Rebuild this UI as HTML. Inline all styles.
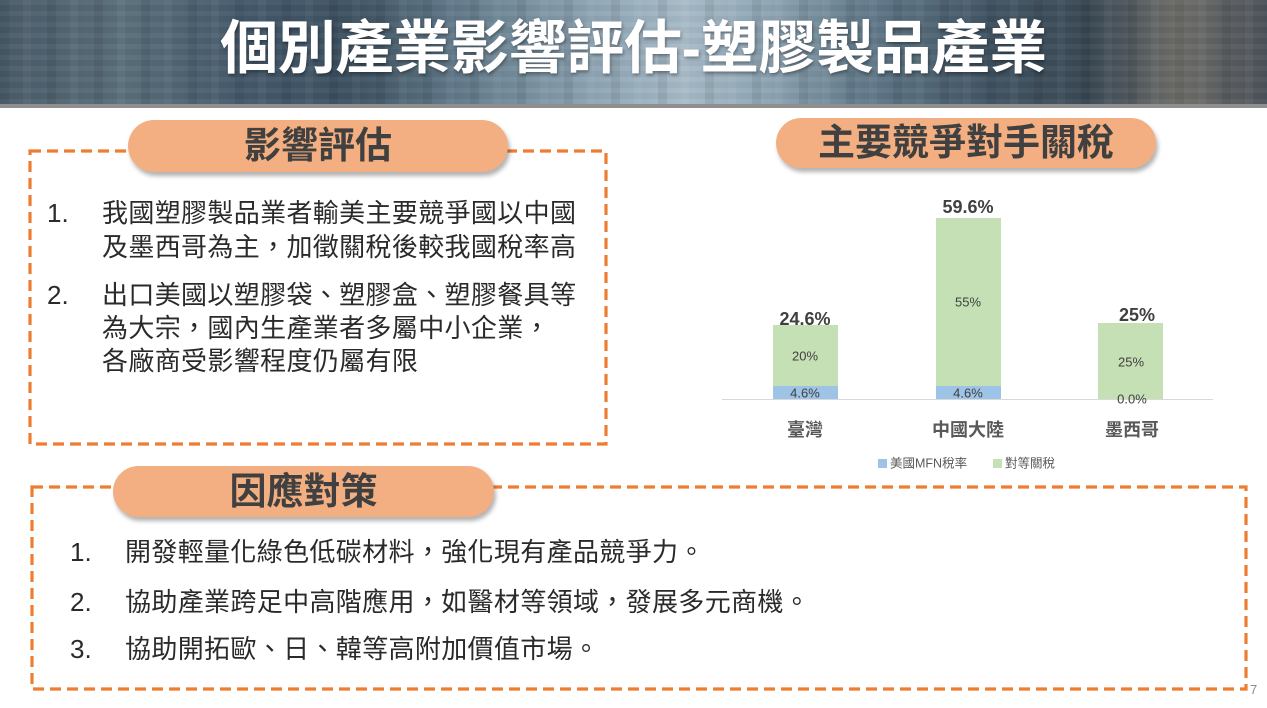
<!DOCTYPE html>
<html><head><meta charset="utf-8">
<style>
html,body{margin:0;padding:0;}
body{width:1267px;height:708px;position:relative;overflow:hidden;background:#fff;
font-family:"Liberation Sans","Noto Sans CJK TC",sans-serif;}
#hdr{position:absolute;left:0;top:0;width:1267px;height:104px;
background:
 repeating-linear-gradient(90deg, rgba(0,0,0,0.07) 0 9px, rgba(0,0,0,0) 9px 23px, rgba(255,255,255,0.04) 23px 31px, rgba(0,0,0,0) 31px 47px),
 repeating-linear-gradient(180deg, rgba(255,255,255,0.03) 0 5px, rgba(0,0,0,0.03) 5px 11px),
 linear-gradient(90deg,#4a5c69 0%,#5a6e7b 10%,#44586a 20%,#3e5262 28%,#6a8292 38%,#93a9b8 48%,#a7bac7 54%,#92a8b7 60%,#637b8b 68%,#425564 78%,#3a4955 86%,#6e6d69 93%,#4b525a 100%);}
#gbar{position:absolute;left:0;top:104px;width:1267px;height:4px;background:#8e8e8e;}
#title{position:absolute;left:0;top:11px;width:1267px;text-align:center;color:#fff;
font-size:58px;font-weight:bold;line-height:76px;letter-spacing:-0.3px;
text-shadow:1px 2px 3px rgba(0,0,0,0.35);}
.pill{position:absolute;background:#F3AF81;border-radius:27px;box-shadow:2px 4px 4px rgba(0,0,0,0.30);
color:#404040;font-weight:bold;text-align:center;font-size:37px;}
.t{position:absolute;font-size:26px;color:#2a2a2a;letter-spacing:0.35px;white-space:nowrap;}
.n{position:absolute;font-size:26px;color:#2a2a2a;white-space:nowrap;}
#pg{position:absolute;left:1250px;top:682px;font-size:13px;color:#8a8a8a;}
</style></head><body>
<div id="hdr"></div>
<div id="gbar"></div>
<div id="title">個別產業影響評估-塑膠製品產業</div>

<svg width="1267" height="708" style="position:absolute;left:0;top:0" xmlns="http://www.w3.org/2000/svg">
  <rect x="30" y="151" width="576" height="293" fill="none" stroke="#ED7D31" stroke-width="3.2" stroke-dasharray="11 6"/>
  <rect x="32" y="487" width="1214" height="202" fill="none" stroke="#ED7D31" stroke-width="3.2" stroke-dasharray="11 6"/>
  <!-- chart -->
  <rect x="773" y="325" width="65" height="61" fill="#C5E0B4"/>
  <rect x="773" y="386" width="65" height="13" fill="#9DC3E6"/>
  <rect x="936" y="218" width="65" height="168" fill="#C5E0B4"/>
  <rect x="936" y="386" width="65" height="13" fill="#9DC3E6"/>
  <rect x="1098" y="323" width="65" height="76" fill="#C5E0B4"/>
  <line x1="722" y1="399.5" x2="1213" y2="399.5" stroke="#d9d9d9" stroke-width="1"/>
  <g font-family="Liberation Sans, sans-serif" font-weight="bold" font-size="18" fill="#404040" text-anchor="middle" dominant-baseline="central">
    <text x="805" y="319">24.6%</text>
    <text x="968" y="207">59.6%</text>
    <text x="1137" y="315">25%</text>
  </g>
  <g font-family="Liberation Sans, sans-serif" font-size="13" fill="#404040" text-anchor="middle" dominant-baseline="central">
    <text x="805" y="356">20%</text>
    <text x="968" y="302">55%</text>
    <text x="1131" y="362">25%</text>
    <text x="805" y="393">4.6%</text>
    <text x="968" y="393">4.6%</text>
    <text x="1132" y="399">0.0%</text>
  </g>
  <g font-family="Liberation Sans, Noto Sans CJK TC, sans-serif" font-weight="bold" font-size="18" fill="#595959" text-anchor="middle" dominant-baseline="central">
    <text x="805" y="430">臺灣</text>
    <text x="968" y="430">中國大陸</text>
    <text x="1132" y="430">墨西哥</text>
  </g>
  <rect x="878" y="459" width="9" height="9" fill="#9DC3E6"/>
  <rect x="993" y="459" width="9" height="9" fill="#C5E0B4"/>
  <g font-family="Liberation Sans, Noto Sans CJK TC, sans-serif" font-size="12.5" fill="#595959" dominant-baseline="central">
    <text x="890" y="463.5">美國MFN稅率</text>
    <text x="1005" y="463.5">對等關稅</text>
  </g>
</svg>

<div class="pill" style="left:128px;top:120px;width:380px;height:52px;line-height:52px;">影響評估</div>
<div class="pill" style="left:776px;top:118px;width:380px;height:50px;line-height:50px;">主要競爭對手關稅</div>
<div class="pill" style="left:113px;top:466px;width:381px;height:51px;line-height:51px;">因應對策</div>

<div class="n" style="left:47px;top:196px;line-height:34px;">1.</div>
<div class="t" style="left:102px;top:196px;line-height:34px;">我國塑膠製品業者輸美主要競爭國以中國<br>及墨西哥為主，加徵關稅後較我國稅率高</div>
<div class="n" style="left:47px;top:279px;line-height:33px;">2.</div>
<div class="t" style="left:102px;top:279px;line-height:33px;">出口美國以塑膠袋、塑膠盒、塑膠餐具等<br>為大宗，國內生產業者多屬中小企業，<br>各廠商受影響程度仍屬有限</div>

<div class="n" style="left:70px;top:535px;line-height:34px;">1.</div>
<div class="t" style="left:125px;top:535px;line-height:34px;">開發輕量化綠色低碳材料，強化現有產品競爭力。</div>
<div class="n" style="left:70px;top:585px;line-height:34px;">2.</div>
<div class="t" style="left:125px;top:585px;line-height:34px;">協助產業跨足中高階應用，如醫材等領域，發展多元商機。</div>
<div class="n" style="left:70px;top:632px;line-height:34px;">3.</div>
<div class="t" style="left:125px;top:632px;line-height:34px;">協助開拓歐、日、韓等高附加價值市場。</div>

<div id="pg">7</div>
</body></html>
